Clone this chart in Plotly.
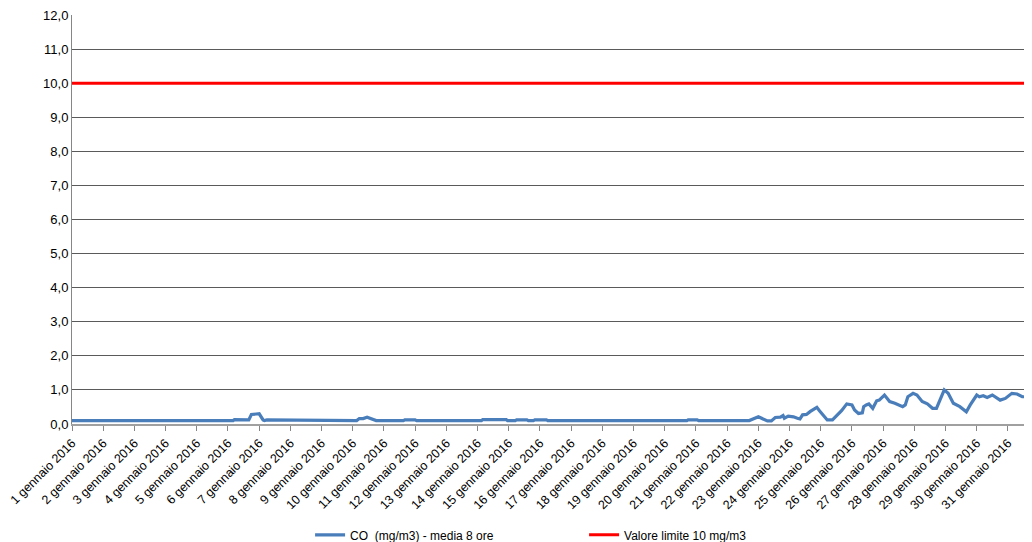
import plotly.graph_objects as go
import pandas as pd

# CO 8-hour moving average (mg/m3), breakpoints
co_times = [
    "2016-01-01 00:00", "2016-01-06 04:00", "2016-01-06 05:00", "2016-01-06 14:00",
    "2016-01-06 16:00", "2016-01-06 18:00", "2016-01-06 21:00", "2016-01-07 00:00",
    "2016-01-07 03:00", "2016-01-07 04:00", "2016-01-07 06:00", "2016-01-07 16:00",
    "2016-01-07 18:00", "2016-01-08 05:00", "2016-01-08 06:00", "2016-01-08 15:00",
    "2016-01-08 16:00", "2016-01-10 03:00", "2016-01-10 05:00", "2016-01-10 08:00",
    "2016-01-10 11:00", "2016-01-10 15:00", "2016-01-10 18:00", "2016-01-11 15:00",
    "2016-01-11 16:00", "2016-01-12 00:00", "2016-01-12 01:00", "2016-01-14 03:00",
    "2016-01-14 04:00", "2016-01-14 22:00", "2016-01-14 23:00", "2016-01-15 05:00",
    "2016-01-15 06:00", "2016-01-15 14:00", "2016-01-15 15:00", "2016-01-15 19:00",
    "2016-01-15 20:00", "2016-01-16 05:00", "2016-01-16 06:00", "2016-01-20 17:00",
    "2016-01-20 18:00", "2016-01-21 01:00", "2016-01-21 02:00", "2016-01-22 17:00",
    "2016-01-23 00:00", "2016-01-23 07:00", "2016-01-23 10:00", "2016-01-23 13:00",
    "2016-01-23 17:00", "2016-01-23 19:00", "2016-01-23 20:00", "2016-01-23 23:00",
    "2016-01-24 03:00", "2016-01-24 06:00", "2016-01-24 08:00", "2016-01-24 10:00",
    "2016-01-24 13:00", "2016-01-24 16:00", "2016-01-24 18:00", "2016-01-24 21:00",
    "2016-01-24 23:00", "2016-01-25 03:00", "2016-01-25 05:00", "2016-01-25 09:00",
    "2016-01-25 12:00", "2016-01-25 16:00", "2016-01-25 20:00", "2016-01-26 00:00",
    "2016-01-26 02:00", "2016-01-26 05:00", "2016-01-26 08:00", "2016-01-26 09:00",
    "2016-01-26 11:00", "2016-01-26 13:00", "2016-01-26 16:00", "2016-01-26 19:00",
    "2016-01-26 21:00", "2016-01-27 01:00", "2016-01-27 05:00", "2016-01-27 09:00",
    "2016-01-27 15:00", "2016-01-27 17:00", "2016-01-27 19:00", "2016-01-27 23:00",
    "2016-01-28 02:00", "2016-01-28 06:00", "2016-01-28 10:00", "2016-01-28 14:00",
    "2016-01-28 17:00", "2016-01-28 21:00", "2016-01-28 23:00", "2016-01-29 02:00",
    "2016-01-29 06:00", "2016-01-29 11:00", "2016-01-29 16:00", "2016-01-29 19:00",
    "2016-01-30 00:00", "2016-01-30 02:00", "2016-01-30 05:00", "2016-01-30 08:00",
    "2016-01-30 12:00", "2016-01-30 18:00", "2016-01-30 22:00", "2016-01-31 03:00",
    "2016-01-31 07:00", "2016-01-31 11:00", "2016-01-31 15:00", "2016-01-31 18:00",
    "2016-01-31 23:00",
]
co_values = [
    0.10, 0.10, 0.13, 0.13,
    0.12, 0.28, 0.30, 0.30,
    0.12, 0.10, 0.12, 0.12,
    0.10, 0.10, 0.12, 0.12,
    0.10, 0.10, 0.16, 0.16,
    0.20, 0.14, 0.10, 0.10,
    0.12, 0.12, 0.10, 0.10,
    0.13, 0.13, 0.10, 0.10,
    0.12, 0.12, 0.10, 0.10,
    0.12, 0.12, 0.10, 0.10,
    0.12, 0.12, 0.10, 0.10,
    0.21, 0.09, 0.09, 0.19,
    0.20, 0.25, 0.17, 0.23,
    0.21, 0.17, 0.15, 0.27,
    0.28, 0.37, 0.41, 0.49,
    0.39, 0.21, 0.12, 0.12,
    0.24, 0.39, 0.59, 0.56,
    0.41, 0.31, 0.33, 0.51,
    0.56, 0.59, 0.46, 0.68,
    0.70, 0.85, 0.66, 0.61,
    0.51, 0.56, 0.80, 0.90,
    0.85, 0.66, 0.59, 0.46,
    0.46, 0.80, 1.00, 0.90,
    0.61, 0.51, 0.36, 0.56,
    0.85, 0.80, 0.83, 0.78,
    0.85, 0.70, 0.75, 0.90,
    0.88, 0.80, 0.80, 0.75,
    0.77,
]

limit_times = ["2016-01-01 00:00", "2016-02-01 00:00"]
limit_values = [10, 10]

tick_days = list(range(1, 32))
tick_dates = [f"2016-01-{d:02d}" for d in tick_days]
tick_labels = [f"{d} gennaio 2016" for d in tick_days]

y_ticks = list(range(0, 13))

fig = go.Figure()
fig.add_trace(go.Scatter(
    x=pd.to_datetime(co_times), y=co_values, mode="lines",
    name="CO  (mg/m3) - media 8 ore",
    line=dict(color="#4A7EBB", width=3.2),
))
fig.add_trace(go.Scatter(
    x=pd.to_datetime(limit_times), y=limit_values, mode="lines",
    name="Valore limite 10 mg/m3",
    line=dict(color="#FF0000", width=3),
))

# page body adds an 8px margin, so the figure is sized/offset to compensate
fig.update_layout(
    width=1024, height=534,
    margin=dict(l=64, r=0, t=7, b=118, autoexpand=False),
    paper_bgcolor="white", plot_bgcolor="white",
    separators=",.",
    font=dict(family="Liberation Sans, Arial, sans-serif", size=12, color="#000000"),
    showlegend=True,
    legend=dict(
        orientation="h", x=0.248, xanchor="left", y=-0.271, yanchor="middle",
        font=dict(size=12), entrywidth=229, entrywidthmode="pixels",
        itemwidth=30, tracegroupgap=0, bgcolor="rgba(0,0,0,0)",
    ),
)
fig.update_xaxes(
    type="date", automargin=False, ticklabeloverflow="allow",
    range=[pd.Timestamp("2016-01-01 00:00"), pd.Timestamp("2016-01-31 18:30")],
    tickmode="array", tickvals=pd.to_datetime(tick_dates), ticktext=tick_labels,
    tickangle=-45, tickfont=dict(size=12.5),
    ticks="outside", ticklen=5, tickcolor="#868686", tickwidth=1,
    showline=True, linecolor="#A0A0A0", linewidth=2,
    showgrid=False, zeroline=False,
)
fig.update_yaxes(
    range=[0, 12], tickmode="array", tickvals=y_ticks, tickformat=".1f",
    automargin=False, ticklabeloverflow="allow",
    showline=True, linecolor="#868686", linewidth=1,
    showgrid=True, gridcolor="#5A5A5A", gridwidth=1,
    ticks="", zeroline=False, tickfont=dict(size=13),
)

fig.write_html("out.html")
